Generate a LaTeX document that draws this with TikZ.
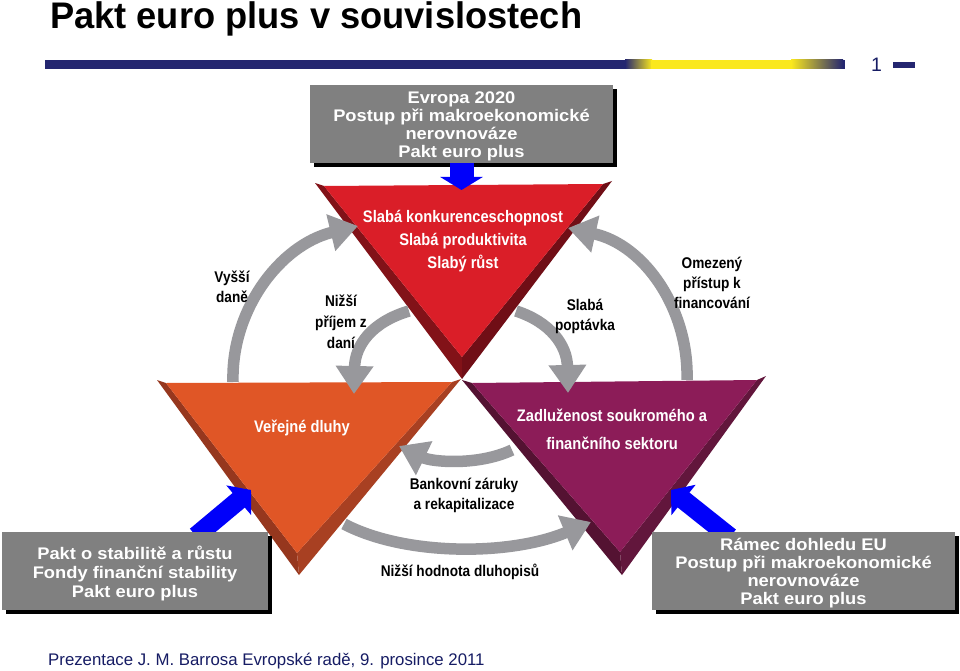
\documentclass[tikz,border=0pt]{standalone}
\usepackage{fontspec}
\setmainfont{Liberation Sans}
\newfontfamily\wideF[FakeStretch=1.09]{Liberation Sans}
\newfontfamily\titleF[FakeStretch=0.98]{Liberation Sans}
\newfontfamily\narF[FakeStretch=0.88]{Liberation Sans}
\usetikzlibrary{arrows.meta,shadows}
\definecolor{navy}{RGB}{36,38,112}
\definecolor{yel}{RGB}{250,232,30}
\definecolor{foot}{RGB}{22,28,100}
\definecolor{boxgray}{RGB}{128,128,128}
\definecolor{arrgray}{RGB}{152,152,156}
\definecolor{bluearrow}{RGB}{0,0,250}
\definecolor{redface}{RGB}{218,30,40}
\definecolor{redL}{RGB}{130,18,24}
\definecolor{redR}{RGB}{112,14,22}
\definecolor{orface}{RGB}{224,86,38}
\definecolor{orL}{RGB}{150,55,30}
\definecolor{orR}{RGB}{168,64,34}
\definecolor{puface}{RGB}{140,28,88}
\definecolor{puL}{RGB}{84,18,50}
\definecolor{puR}{RGB}{98,22,60}
\begin{document}
\begin{tikzpicture}[x=1pt,y=-1pt,
  gbox/.style={fill=boxgray, inner sep=0pt,
    drop shadow={shadow xshift=4pt, shadow yshift=-4pt, fill=black, opacity=1}},
  btxt/.style={text=white, inner sep=0pt, align=center,
    font=\wideF\bfseries\fontsize{16.8}{18}\selectfont},
  garrow/.style={draw=arrgray, line width=11.5pt, -{Triangle[width=36pt,length=28pt]}},
  barrow/.style={draw=bluearrow, line width=19pt, -{Triangle[width=38pt,length=16pt]}},
  lbl/.style={text=black, align=center, inner sep=0pt,
    font=\narF\bfseries\fontsize{15.5}{20}\selectfont},
  inlbl/.style={text=white, align=center, inner sep=0pt,
    font=\narF\bfseries\fontsize{16.7}{23}\selectfont}]
\useasboundingbox (0,0) rectangle (960,671);
\fill[white] (0,0) rectangle (960,671);

% title
\node[anchor=base west, inner sep=0pt, font=\titleF\bfseries\fontsize{37}{38}\selectfont] (title) at (50,29) {Pakt euro plus v souvislostech};

% banner
\fill[navy] (45,60) rectangle (845,69);
\shade[left color=navy, right color=yel] (625,60) rectangle (652,69);
\fill[yel] (651,60) rectangle (792,69);
\shade[left color=yel, right color=navy] (791,60) rectangle (843,69);
\node[anchor=base west, inner sep=0pt, text=foot, font=\fontsize{19.5}{20}\selectfont] (pg) at (871,72) {1};
\fill[navy] (893,62) rectangle (915,68);

% orange triangle
\fill[orL] (157,380) -- (166,383) -- (297,553) -- (299,575) -- cycle;
\fill[orR] (461,379) -- (452,382) -- (297,553) -- (299,575) -- cycle;
\fill[orface] (166,383) -- (452,382) -- (297,553) -- cycle;
% purple triangle
\fill[puL] (462,380) -- (472,383) -- (620,552) -- (622,575) -- cycle;
\fill[puR] (766,376) -- (757,380) -- (620,552) -- (622,575) -- cycle;
\fill[puface] (472,383) -- (757,380) -- (620,552) -- cycle;
% red triangle
\fill[redL] (315,183) -- (324,186) -- (462,357) -- (462,379) -- cycle;
\fill[redR] (612,181) -- (603,184) -- (462,357) -- (462,379) -- cycle;
\fill[redface] (324,186) -- (603,184) -- (462,357) -- cycle;

% arrow end points
\coordinate (a1s) at (233,382);
\coordinate (a1e) at (358,226);
\coordinate (a2s) at (409,311);
\coordinate (a2e) at (354,394);
\coordinate (a3s) at (516,311);
\coordinate (a3e) at (568,393);
\coordinate (a4s) at (687,380);
\coordinate (a4e) at (568,228);
\coordinate (a5s) at (512,450);
\coordinate (a5e) at (399,446);
\coordinate (a6s) at (344,524);
\coordinate (a6e) at (591,522);

\draw[garrow] (a1s) .. controls (231,310) and (280,245) .. (a1e);
\draw[garrow] (a2s) .. controls (372,322) and (355,345) .. (a2e);
\draw[garrow] (a3s) .. controls (550,322) and (567,345) .. (a3e);
\draw[garrow] (a4s) .. controls (689,310) and (645,245) .. (a4e);
\draw[garrow] (a5s) .. controls (478,466) and (432,462) .. (a5e);
\draw[garrow] (a6s) .. controls (405,556) and (510,556) .. (a6e);

% blue arrows
\coordinate (redtop) at (461.5,190);
\coordinate (bls) at (196,536);
\coordinate (blt) at (251,490);
\coordinate (brs) at (730,537);
\coordinate (brt) at (671,490);
\draw[barrow] (bls) -- (blt);
\draw[barrow] (brs) -- (brt);

% boxes
\node[gbox, minimum width=303pt, minimum height=78pt] (topbox) at (461.5,124) {};
\node[btxt] (toptxt) at (461.5,126)
  {Evropa 2020\\Postup při makroekonomické\\nerovnováze\\Pakt euro plus};
\draw[draw=bluearrow, line width=24pt, -{Triangle[width=42pt,length=13pt]}] (topbox.south) -- (redtop);
\node[gbox, minimum width=266pt, minimum height=78pt] (blbox) at (135,571) {};
\node[btxt, font=\wideF\bfseries\fontsize{16.8}{19}\selectfont] (bltxt) at (135,573)
  {Pakt o stabilitě a růstu\\Fondy finanční stability\\Pakt euro plus};
\node[gbox, minimum width=303pt, minimum height=78pt] (brbox) at (803.5,571) {};
\node[btxt] (brtxt) at (803.5,573)
  {Rámec dohledu EU\\Postup při makroekonomické\\nerovnováze\\Pakt euro plus};

% labels in triangles
\node[inlbl] (redtxt) at (463,241) {Slabá konkurenceschopnost\\Slabá produktivita\\Slabý růst};
\node[inlbl] (ortxt) at (302,428) {Veřejné dluhy};
\node[inlbl, font=\narF\bfseries\fontsize{16.7}{28}\selectfont] (putxt) at (612,429) {Zadluženost soukromého a\\finančního sektoru};

% black labels
\node[lbl] (l1) at (232,287) {Vyšší\\daně};
\node[lbl, font=\narF\bfseries\fontsize{15.5}{21}\selectfont] (l2) at (341,322) {Nižší\\příjem z\\daní};
\node[lbl] (l3) at (585,316) {Slabá\\poptávka};
\node[lbl] (l4) at (712,283) {Omezený\\přístup k\\financování};
\node[lbl] (l5) at (464,495) {Bankovní záruky\\a rekapitalizace};
\node[lbl] (l6) at (460,572) {Nižší hodnota dluhopisů};

% footer
\node[anchor=base west, inner sep=0pt, text=foot, font=\fontsize{16.8}{18}\selectfont] (foot) at (48,665)
  {Prezentace J. M. Barrosa Evropské radě, 9. prosince 2011};
\end{tikzpicture}
\end{document}
